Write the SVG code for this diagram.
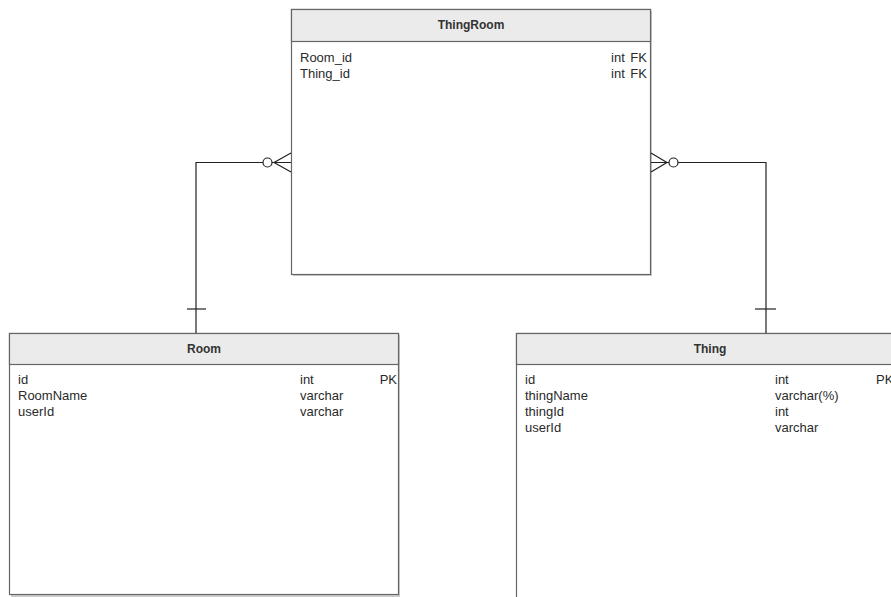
<svg xmlns="http://www.w3.org/2000/svg" width="891" height="597" viewBox="0 0 891 597">
<defs>
<style>
.box{fill:#ffffff;stroke:#666666;stroke-width:1.2}
.shadow{fill:#999999;opacity:0.5}
.hdr{fill:#ebebeb;stroke:#666666;stroke-width:1.2}
.title{font-family:"Liberation Sans",Arial,sans-serif;font-size:12px;font-weight:bold;fill:#333333;text-anchor:middle}
.f{font-family:"Liberation Sans",Arial,sans-serif;font-size:13px;fill:#2a2a2a}
.r{text-anchor:end}
.ln{fill:none;stroke:#222222;stroke-width:1.2}
</style>
</defs>
<rect width="891" height="597" fill="#ffffff"/>
<g id="ThingRoom">
<rect class="shadow" x="293" y="11" width="359" height="265"/>
<rect class="box" x="291.5" y="9.5" width="359" height="265"/>
<rect class="hdr" x="291.5" y="9.5" width="359" height="32"/>
<text class="title" x="471" y="29">ThingRoom</text>
<text class="f" x="300" y="62">Room_id</text>
<text class="f r" x="647" y="62" word-spacing="2">int FK</text>
<text class="f" x="300" y="78">Thing_id</text>
<text class="f r" x="647" y="78" word-spacing="2">int FK</text>
</g>
<g id="Room">
<rect class="shadow" x="11" y="335" width="389" height="262"/>
<rect class="box" x="9.5" y="333.5" width="389" height="261"/>
<rect class="hdr" x="9.5" y="333.5" width="389" height="31"/>
<text class="title" x="204" y="353">Room</text>
<text class="f" x="18" y="384">id</text>
<text class="f" x="300" y="384">int</text>
<text class="f r" x="397" y="384">PK</text>
<text class="f" x="18" y="400">RoomName</text>
<text class="f" x="300" y="400">varchar</text>
<text class="f" x="18" y="416">userId</text>
<text class="f" x="300" y="416">varchar</text>
</g>
<g id="Thing">
<rect class="shadow" x="518" y="335" width="400" height="280"/>
<rect class="box" x="516.5" y="333.5" width="400" height="280"/>
<rect class="hdr" x="516.5" y="333.5" width="400" height="31"/>
<text class="title" x="710" y="353">Thing</text>
<text class="f" x="525" y="384">id</text>
<text class="f" x="775" y="384">int</text>
<text class="f" x="876" y="384">PK</text>
<text class="f" x="525" y="400">thingName</text>
<text class="f" x="775" y="400">varchar(%)</text>
<text class="f" x="525" y="416">thingId</text>
<text class="f" x="775" y="416">int</text>
<text class="f" x="525" y="432">userId</text>
<text class="f" x="775" y="432">varchar</text>
</g>
<g id="connectors">
<path class="ln" d="M196 333 V162.5 H263"/>
<line class="ln" x1="187" y1="309" x2="206" y2="309"/>
<circle class="ln" cx="267.5" cy="162.5" r="4.5" fill="#ffffff"/>
<path class="ln" d="M272 162.5 H291 M274 162.5 L291 153 M274 162.5 L291 172"/>
<path class="ln" d="M766 333 V162.5 H678"/>
<line class="ln" x1="755" y1="309" x2="776" y2="309"/>
<circle class="ln" cx="673.5" cy="162.5" r="4.5" fill="#ffffff"/>
<path class="ln" d="M669 162.5 H651 M667 162.5 L651 153 M667 162.5 L651 172"/>
</g>
</svg>
